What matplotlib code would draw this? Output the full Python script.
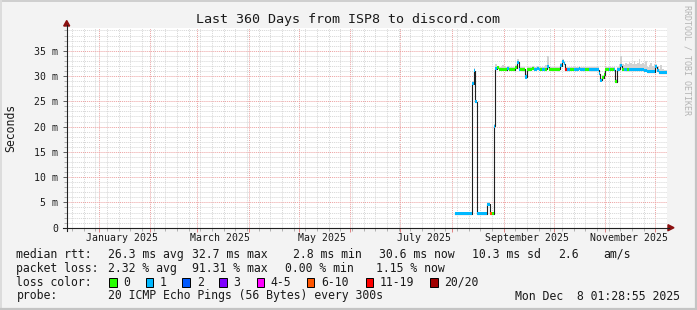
import matplotlib
matplotlib.use("Agg")
import matplotlib.pyplot as plt
import matplotlib.dates as mdates
from matplotlib.ticker import MultipleLocator, FuncFormatter
from matplotlib.lines import Line2D
from matplotlib.patches import Polygon, Rectangle
import numpy as np
import pandas as pd

W, H = 697, 310

title = "Last 360 Days from ISP8 to discord.com"
t_start = pd.Timestamp("2024-12-13 01:28:55")
t_end = pd.Timestamp("2025-12-08 01:28:55")
first_day = "2025-08-03"

# daily median rtt (ms), Aug 3 .. Dec 7
median_aug = [2.8, 2.8, 2.8, 2.8, 2.8, 2.8, 2.8, 2.8, 2.8, 2.8,
              28.5, 31.0, 24.9,
              2.8, 2.8, 2.8, 2.8, 2.8, 2.8,
              4.6, 4.6, 2.8, 2.8, 20.1,
              31.4, 31.6, 31.3, 31.3, 31.3]
median_sep = [31.3, 31.2, 31.4, 31.3, 31.3, 31.3, 31.2, 31.6, 32.7, 31.3,
              31.3, 31.2, 31.3, 29.8, 31.2, 31.3, 31.3, 31.4, 31.3, 31.3,
              31.4, 31.3, 31.3, 31.3, 31.2, 31.3, 31.8, 31.3, 31.3, 31.2]
median_oct = [31.3, 31.3, 31.2, 31.3, 32.0, 32.8, 32.4, 31.2, 31.2, 31.2,
              31.3, 31.3, 31.2, 31.2, 31.3, 31.4, 31.3, 31.2, 31.2, 31.3,
              31.3, 31.2, 31.2, 31.2, 31.2, 31.2, 31.2, 30.4, 29.2, 29.7,
              30.2]
median_nov = [31.3, 31.3, 31.2, 31.3, 31.3, 31.2, 28.9, 31.3, 31.3, 32.0,
              31.3, 31.3, 31.2, 31.2, 31.2, 31.2, 31.2, 31.2, 31.2, 31.2,
              31.2, 31.2, 31.2, 31.1, 31.1, 30.8, 30.8, 30.8, 30.8, 30.8]
median_dec = [31.8, 31.0, 30.6, 30.6, 30.6, 30.6, 30.6]

# loss bucket per day (index into loss_labels)
loss_aug = [1, 1, 1, 1, 1, 1, 1, 1, 1, 1,
            1, 1, 1,
            1, 1, 1, 1, 1, 1,
            1, 1, 5, 0, 1,
            1, 0, 0, 0, 0]
loss_sep = [0, 0, 1, 0, 0, 0, 0, 0, 1, 1,
            0, 0, 0, 1, 0, 0, 0, 0, 1, 1,
            1, 1, 0, 1, 1, 0, 1, 0, 0, 0]
loss_oct = [0, 0, 0, 0, 1, 1, 1, 6, 1, 1,
            0, 0, 1, 1, 1, 1, 1, 1, 1, 0,
            0, 1, 1, 1, 1, 1, 1, 1, 1, 0,
            0]
loss_nov = [0, 0, 1, 0, 0, 1, 0, 1, 1, 1,
            0, 1, 1, 0, 1, 1, 1, 1, 1, 1,
            1, 1, 1, 1, 1, 1, 1, 1, 1, 1]
loss_dec = [1, 1, 1, 1, 1, 1, 1]

# top of the grey "smoke" (slowest pings) per day
smoke_aug = [3.2, 3.2, 3.2, 3.2, 3.2, 3.2, 3.2, 3.2, 3.2, 3.2,
             29.0, 31.5, 25.3,
             3.2, 3.2, 3.2, 3.2, 3.2, 3.2,
             5.0, 5.0, 3.2, 3.2, 20.5,
             32.4, 32.0, 31.8, 31.7, 32.1]
smoke_sep = [31.8, 31.8, 31.9, 31.8, 31.8, 31.7, 31.8, 32.2, 33.4, 31.8,
             31.7, 31.8, 31.7, 30.3, 31.7, 31.8, 31.7, 31.9, 31.8, 31.8,
             31.9, 31.8, 31.7, 31.8, 31.7, 32.1, 34.0, 31.8, 31.7, 31.7]
smoke_oct = [31.7, 31.8, 31.7, 31.8, 32.5, 33.3, 32.9, 31.8, 31.7, 31.7,
             31.8, 31.8, 31.7, 31.7, 31.8, 31.9, 31.8, 31.7, 31.7, 31.8,
             31.8, 31.7, 31.7, 31.7, 31.7, 31.7, 31.7, 30.9, 29.7, 30.2,
             30.7]
smoke_nov = [31.8, 31.8, 31.7, 31.8, 31.8, 31.7, 29.4, 31.8, 32.3, 34.0,
             32.4, 32.2, 32.6, 32.3, 32.8, 32.5, 32.3, 33.0, 32.4, 32.6,
             33.3, 32.4, 32.5, 32.2, 33.0, 31.8, 32.2, 32.6, 31.9, 32.3]
smoke_dec = [32.4, 32.0, 31.4, 32.2, 31.3, 31.2, 31.1]

loss_labels = ["0", "1", "2", "3", "4-5", "6-10", "11-19", "20/20"]
loss_colors = ["#26ff00", "#00b8ff", "#0059ff", "#7e00ff",
               "#ff00ff", "#ff5500", "#ff0000", "#a10000"]

month_labels = ["January 2025", "March 2025", "May 2025",
                "July 2025", "September 2025", "November 2025"]
month_label_dates = ["2025-01-15", "2025-03-15", "2025-05-15",
                     "2025-07-15", "2025-09-15", "2025-11-15"]

rtt_items = ["26.3 ms avg", "32.7 ms max", "2.8 ms min", "30.6 ms now", "10.3 ms sd", "2.6", "am/s"]
loss_items = ["2.32 % avg", "91.31 % max", "0.00 % min", "1.15 % now"]
probe_text = "20 ICMP Echo Pings (56 Bytes) every 300s"
stamp_text = "Mon Dec  8 01:28:55 2025"

median = np.array(median_aug + median_sep + median_oct + median_nov + median_dec)
loss = loss_aug + loss_sep + loss_oct + loss_nov + loss_dec
smoke = np.array(smoke_aug + smoke_sep + smoke_oct + smoke_nov + smoke_dec)
days = pd.date_range(first_day, periods=len(median), freq="D")

plt.rcParams["font.family"] = ["DejaVu Sans Mono"]
TXT = "#1a1a1a"


def fx(px):
    return px / W


def fy(py):
    return 1 - py / H


fig = plt.figure(figsize=(W / 100, H / 100), dpi=100)
fig.patch.set_facecolor("#f3f3f3")

ax = fig.add_axes([fx(67), fy(227.7), 600 / W, 200 / H])
ax.set_facecolor("white")
for s in ax.spines.values():
    s.set_visible(False)

# grid
ax.xaxis.set_major_locator(mdates.MonthLocator(bymonthday=1))
ax.xaxis.set_minor_locator(mdates.WeekdayLocator(byweekday=mdates.MO))
ax.yaxis.set_major_locator(MultipleLocator(5))
ax.yaxis.set_minor_locator(MultipleLocator(1))
ax.grid(which="minor", color="#d6d6d6", lw=0.7, ls=(0, (1, 1)))
ax.grid(which="major", color="#eca0a0", lw=0.7, ls=(0, (1, 1)))
ax.set_axisbelow(True)

# smoke, median line, loss-coloured markers
step_x = days.append(pd.DatetimeIndex([t_end]))
step_y = np.append(median, median[-1])
ax.bar(days, smoke - median, bottom=median, width=1.0, align="edge",
       color="#d2d2d2", linewidth=0, zorder=2)
ax.step(step_x, step_y, where="post", color="#202020", lw=0.8, zorder=3)
ax.bar(days, 0.6, bottom=median - 0.3, width=1.0, align="edge",
       color=[loss_colors[i] for i in loss], linewidth=0, zorder=4)

ax.set_xlim(t_start, t_end)
ax.set_ylim(0, 39.55)

ax.xaxis.set_major_formatter(plt.NullFormatter())
ax.xaxis.set_minor_formatter(plt.NullFormatter())
ax.yaxis.set_major_formatter(FuncFormatter(lambda v, p: "0" if v == 0 else f"{v:.0f} m"))
ax.tick_params(axis="x", which="major", length=3, width=0.7, color="#e08080")
ax.tick_params(axis="x", which="minor", length=2, width=0.7, color="#b0b0b0")
ax.tick_params(axis="y", which="major", length=3, width=0.7, color="#606060",
               labelsize=7.1, pad=3.5, labelcolor=TXT)
ax.tick_params(axis="y", which="minor", length=2, width=0.7, color="#b0b0b0")

for lab, d in zip(month_labels, month_label_dates):
    ax.text(mdates.date2num(pd.Timestamp(d)), -0.052, lab, transform=ax.get_xaxis_transform(),
            ha="center", va="center", fontsize=7.1, color=TXT)

# axis lines with arrows
axis_c = "#202020"
arrow_c = "#8b1010"
fig.add_artist(Line2D([fx(63), fx(669)], [fy(227.7), fy(227.7)], color=axis_c, lw=0.8))
fig.add_artist(Line2D([fx(66.7), fx(66.7)], [fy(231), fy(25)], color=axis_c, lw=0.8))
fig.add_artist(Polygon([[fx(668), fy(224.7)], [fx(668), fy(230.7)], [fx(674), fy(227.7)]],
                       closed=True, color=arrow_c, transform=fig.transFigure))
fig.add_artist(Polygon([[fx(63.7), fy(26)], [fx(69.7), fy(26)], [fx(66.7), fy(20.5)]],
                       closed=True, color=arrow_c, transform=fig.transFigure))

# titles
fig.text(0.5, fy(19), title, ha="center", va="center", fontsize=9.6, color=TXT)
fig.text(fx(10.5), fy(127.5), "Seconds", rotation=90, ha="center", va="center",
         fontsize=8.3, color=TXT)
fig.text(fx(687.5), fy(5), "RRDTOOL / TOBI OETIKER", rotation=270, ha="center", va="top",
         fontsize=6, color="#b4b4b4")

# legend block
LX = 16.4
fs = 8.3
fig.text(fx(LX), fy(254.3), "median rtt:", ha="left", va="center", fontsize=fs, color=TXT)
for txt, px in zip(rtt_items, [107.6, 192, 293, 379, 472.4, 557.8, 603]):
    fig.text(fx(px), fy(254.3), txt, ha="left", va="center", fontsize=fs, color=TXT)

fig.text(fx(LX), fy(268.3), "packet loss:", ha="left", va="center", fontsize=fs, color=TXT)
for txt, px in zip(loss_items, [107.6, 192.4, 284.9, 376]):
    fig.text(fx(px), fy(268.3), txt, ha="left", va="center", fontsize=fs, color=TXT)

fig.text(fx(LX), fy(282.3), "loss color:", ha="left", va="center", fontsize=fs, color=TXT)
sw_x = [109, 145.7, 182.3, 219, 256.7, 306.7, 365.7, 430]
lab_x = [123.3, 160, 196.7, 233.3, 270.7, 321.7, 380, 444.4]
for lab, c, sx, lx in zip(loss_labels, loss_colors, sw_x, lab_x):
    fig.add_artist(Rectangle((fx(sx), fy(286.7)), 7.7 / W, 9 / H, transform=fig.transFigure,
                             facecolor=c, edgecolor="black", lw=0.7))
    fig.text(fx(lx), fy(282.3), lab, ha="left", va="center", fontsize=fs, color=TXT)

fig.text(fx(LX), fy(296), "probe:", ha="left", va="center", fontsize=fs, color=TXT)
fig.text(fx(107.6), fy(296), probe_text, ha="left", va="center", fontsize=fs, color=TXT)
fig.text(fx(680), fy(296), stamp_text, ha="right", va="center", fontsize=fs, color=TXT)

# outer frame
fig.add_artist(Line2D([0, 1], [fy(0.7), fy(0.7)], color="#cfcfcf", lw=1.4))
fig.add_artist(Line2D([fx(0.7), fx(0.7)], [0, 1], color="#dcdcdc", lw=1.4))
fig.add_artist(Line2D([fx(696), fx(696)], [0, 1], color="#c4c4c4", lw=1.6))
fig.add_artist(Line2D([0, 1], [fy(308.8), fy(308.8)], color="#c4c4c4", lw=1.6))

fig.savefig("out.png", dpi=100, facecolor=fig.get_facecolor())
